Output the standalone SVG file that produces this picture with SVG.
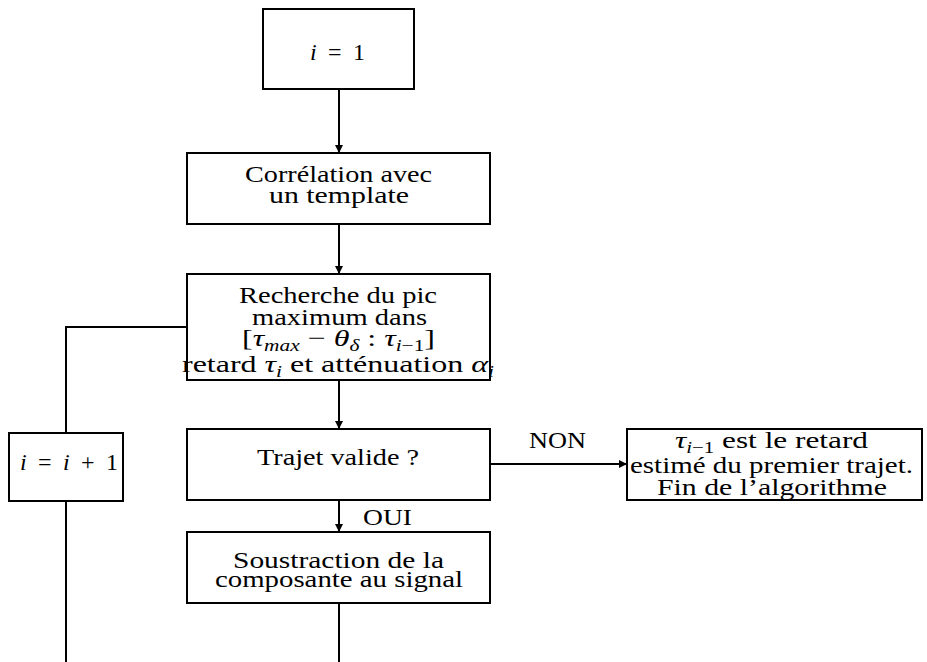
<svg xmlns="http://www.w3.org/2000/svg" width="927" height="662" viewBox="0 0 927 662">
<style>
.box{fill:#fff;stroke:#000;stroke-width:2}
.ln{fill:none;stroke:#000;stroke-width:2}
.t{font-family:'Liberation Serif','Times New Roman',serif;font-size:24px;fill:#000;text-anchor:middle}
.it{font-style:italic}
.sb{font-size:16px}
</style>
<defs>
<marker id="ah" viewBox="0 0 10 10" refX="10" refY="5" markerWidth="4" markerHeight="4" orient="auto" markerUnits="strokeWidth">
<path d="M0,0 L10,5 L0,10 z" fill="#000"/>
</marker>
</defs>
<rect width="927" height="662" fill="#fff"/>
<g id="connectors">
<line class="ln" x1="339" y1="89" x2="339" y2="153" marker-end="url(#ah)"/>
<line class="ln" x1="339" y1="224" x2="339" y2="274" marker-end="url(#ah)"/>
<line class="ln" x1="339" y1="380" x2="339" y2="429" marker-end="url(#ah)"/>
<line class="ln" x1="339" y1="500" x2="339" y2="532" marker-end="url(#ah)"/>
<line class="ln" x1="490" y1="464" x2="627" y2="464" marker-end="url(#ah)"/>
<line class="ln" x1="339" y1="603" x2="339" y2="662"/>
<polyline class="ln" points="187,327 66,327 66,433"/>
<line class="ln" x1="66" y1="501" x2="66" y2="662"/>
<text class="t" font-family="Liberation Serif" x="557.5" y="448" textLength="57" lengthAdjust="spacingAndGlyphs"><tspan>NON</tspan></text>
<text class="t" font-family="Liberation Serif" x="387.5" y="525" textLength="49" lengthAdjust="spacingAndGlyphs"><tspan>OUI</tspan></text>
</g>
<g id="init">
<rect class="box" x="263" y="9" width="151" height="80"/>
<text class="t" font-family="Liberation Serif" x="337.5" y="60" textLength="55"><tspan class="it">i</tspan><tspan> = 1</tspan></text>
</g>
<g id="correlation">
<rect class="box" x="187" y="153" width="303" height="71"/>
<text class="t" font-family="Liberation Serif" x="338.5" y="182" textLength="187" lengthAdjust="spacingAndGlyphs"><tspan>Corrélation avec</tspan></text>
<text class="t" font-family="Liberation Serif" x="339" y="203" textLength="140" lengthAdjust="spacingAndGlyphs"><tspan>un template</tspan></text>
</g>
<g id="recherche">
<rect class="box" x="187" y="274" width="303" height="106"/>
<text class="t" font-family="Liberation Serif" x="338" y="303" textLength="198" lengthAdjust="spacingAndGlyphs"><tspan>Recherche du pic</tspan></text>
<text class="t" font-family="Liberation Serif" x="339.5" y="325" textLength="175" lengthAdjust="spacingAndGlyphs"><tspan>maximum dans</tspan></text>
<text class="t" font-family="Liberation Serif" x="338.5" y="346" textLength="193" lengthAdjust="spacingAndGlyphs"><tspan>[</tspan><tspan class="it">τ</tspan><tspan class="it sb" dy="5">max</tspan><tspan dy="-5"> − </tspan><tspan class="it">θ</tspan><tspan class="it sb" dy="5">δ</tspan><tspan dy="-5"> : </tspan><tspan class="it">τ</tspan><tspan class="it sb" dy="5">i</tspan><tspan class="sb">−1</tspan><tspan dy="-5">]</tspan></text>
<text class="t" font-family="Liberation Serif" x="338" y="372" textLength="312" lengthAdjust="spacingAndGlyphs"><tspan>retard </tspan><tspan class="it">τ</tspan><tspan class="it sb" dy="5">i</tspan><tspan dy="-5"> et atténuation </tspan><tspan class="it">α</tspan><tspan class="it sb" dy="5">i</tspan></text>
</g>
<g id="iter">
<rect class="box" x="9" y="433" width="114" height="68"/>
<text class="t" font-family="Liberation Serif" x="69" y="470" textLength="98"><tspan class="it">i</tspan><tspan> = </tspan><tspan class="it">i</tspan><tspan> + 1</tspan></text>
</g>
<g id="trajet">
<rect class="box" x="187" y="429" width="303" height="71"/>
<text class="t" font-family="Liberation Serif" x="338" y="465" textLength="162" lengthAdjust="spacingAndGlyphs"><tspan>Trajet valide ?</tspan></text>
</g>
<g id="fin">
<rect class="box" x="627" y="429" width="295" height="71"/>
<text class="t" font-family="Liberation Serif" x="771.5" y="448" textLength="193" lengthAdjust="spacingAndGlyphs"><tspan class="it">τ</tspan><tspan class="it sb" dy="5">i</tspan><tspan class="sb">−1</tspan><tspan dy="-5"> est le retard</tspan></text>
<text class="t" font-family="Liberation Serif" x="771.5" y="473" textLength="283" lengthAdjust="spacingAndGlyphs"><tspan>estimé du premier trajet.</tspan></text>
<text class="t" font-family="Liberation Serif" x="772" y="495" textLength="230" lengthAdjust="spacingAndGlyphs"><tspan>Fin de l’algorithme</tspan></text>
</g>
<g id="soustraction">
<rect class="box" x="187" y="532" width="303" height="71"/>
<text class="t" font-family="Liberation Serif" x="338.5" y="568" textLength="211" lengthAdjust="spacingAndGlyphs"><tspan>Soustraction de la</tspan></text>
<text class="t" font-family="Liberation Serif" x="339" y="587" textLength="248" lengthAdjust="spacingAndGlyphs"><tspan>composante au signal</tspan></text>
</g>
</svg>
